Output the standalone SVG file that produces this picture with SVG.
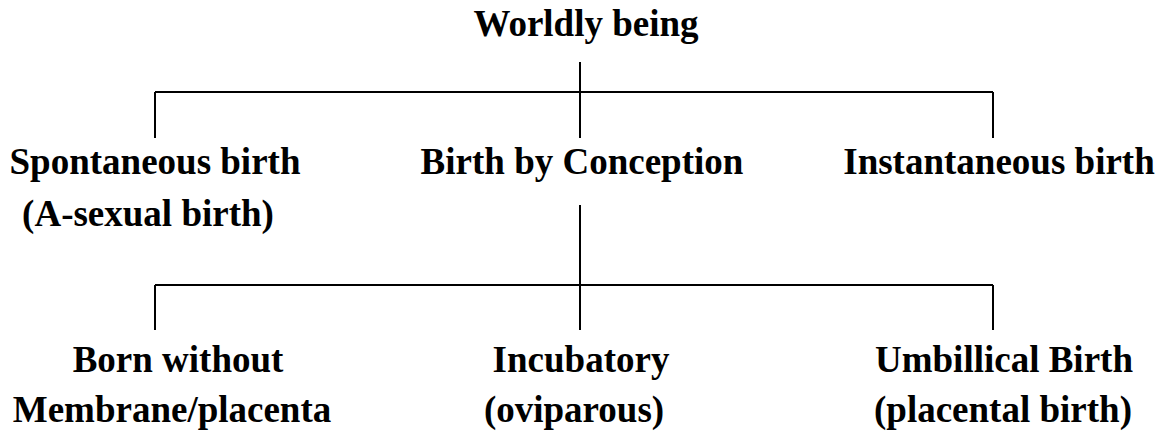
<svg xmlns="http://www.w3.org/2000/svg" width="1164" height="435" viewBox="0 0 1164 435">
<style>
text{font-family:"Liberation Serif","Times New Roman",serif;font-weight:bold;font-size:37px;fill:#000;text-anchor:middle}
.c{stroke:#000;stroke-width:2;fill:none}
</style>
<rect width="1164" height="435" fill="#fff"/>
<g id="connectors">
<path class="c" d="M580,62V92M155,92H993M155,92V138M580,92V138M993,92V138"/>
<path class="c" d="M580,205V285M155,285H993M155,285V330M580,285V330M993,285V330"/>
</g>
<g id="worldly"><text x="586" y="36">Worldly being</text></g>
<g id="spontaneous"><text x="155" y="174">Spontaneous birth</text><text x="148" y="226">(A-sexual birth)</text></g>
<g id="conception"><text x="582" y="174">Birth by Conception</text></g>
<g id="instantaneous"><text x="999" y="174">Instantaneous birth</text></g>
<g id="born"><text x="178" y="372">Born without</text><text x="172" y="422">Membrane/placenta</text></g>
<g id="incubatory"><text x="581" y="372">Incubatory</text><text x="574" y="422">(oviparous)</text></g>
<g id="umbilical"><text x="1004" y="372">Umbillical Birth</text><text x="1003" y="422">(placental birth)</text></g>
</svg>
